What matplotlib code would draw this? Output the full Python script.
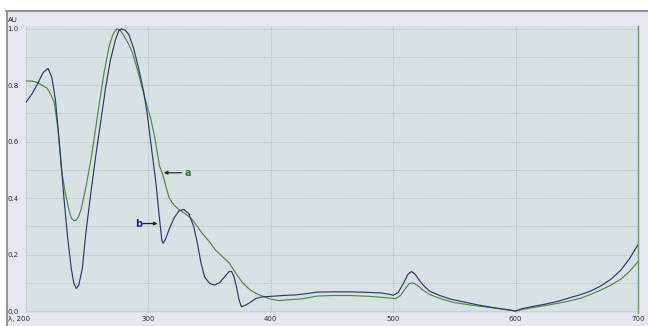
"""UV-Vis absorbance spectra of samples a and b (200-700 nm)."""
import numpy as np
import matplotlib
matplotlib.use('Agg')
import matplotlib.pyplot as plt
from matplotlib.patches import Rectangle
from matplotlib.lines import Line2D
from matplotlib.transforms import ScaledTranslation

# ── Spectrum b (blue) ────────────────────────────────────────────
wl_b = [200, 205, 210, 214, 218, 221, 224, 228, 231, 234, 237, 239, 241, 243,
        246, 249, 253, 257, 261, 265, 269, 273, 276, 278, 281, 284, 288, 292,
        296, 299, 303, 306, 309, 311, 312, 314, 317, 321, 325, 329, 333, 337,
        340, 343, 346, 350, 354, 358, 362, 366, 368, 370, 372, 374, 376, 379,
        383, 388, 393, 400, 410, 420, 430, 438, 450, 465, 480, 490, 496, 500,
        504, 508, 512, 515, 518, 522, 526, 530, 538, 547, 560, 571, 585, 595,
        600, 605, 615, 625, 635, 645, 653, 662, 670, 678, 686, 693, 700]
abs_b = [0.74, 0.77, 0.81, 0.845, 0.86, 0.83, 0.75, 0.56, 0.40, 0.26, 0.15,
         0.10, 0.08, 0.09, 0.15, 0.28, 0.42, 0.55, 0.67, 0.79, 0.89, 0.96,
         0.995, 1.0, 0.995, 0.98, 0.93, 0.86, 0.78, 0.70, 0.56, 0.46, 0.33,
         0.25, 0.24, 0.255, 0.29, 0.33, 0.355, 0.36, 0.345, 0.30, 0.24, 0.17,
         0.12, 0.098, 0.092, 0.10, 0.12, 0.14, 0.14, 0.12, 0.085, 0.04, 0.015,
         0.02, 0.03, 0.045, 0.05, 0.052, 0.055, 0.057, 0.062, 0.067, 0.068,
         0.068, 0.066, 0.064, 0.06, 0.056, 0.065, 0.095, 0.13, 0.14, 0.13,
         0.105, 0.085, 0.07, 0.055, 0.042, 0.03, 0.02, 0.01, 0.004, 0.0,
         0.008, 0.017, 0.025, 0.035, 0.048, 0.058, 0.072, 0.09, 0.113, 0.145,
         0.185, 0.235]

# ── Spectrum a (green) ───────────────────────────────────────────
wl_a = [200, 205, 209, 213, 217, 220, 223, 226, 229, 232, 235, 237, 239, 241,
        243, 245, 249, 253, 257, 260, 264, 268, 271, 274, 277, 280, 284, 287,
        291, 295, 299, 302, 305, 309, 312, 315, 317, 321, 325, 330, 335, 340,
        344, 350, 355, 360, 366, 372, 377, 383, 389, 395, 400, 407, 415, 425,
        438, 450, 465, 480, 495, 502, 506, 510, 513, 516, 520, 524, 530, 540,
        550, 565, 580, 595, 600, 606, 615, 625, 640, 653, 662, 670, 678, 686,
        693, 700]
abs_a = [0.815, 0.815, 0.81, 0.80, 0.79, 0.77, 0.74, 0.65, 0.50, 0.42, 0.36,
         0.33, 0.32, 0.322, 0.335, 0.36, 0.44, 0.535, 0.65, 0.74, 0.85, 0.94,
         0.98, 1.0, 0.995, 0.975, 0.945, 0.915, 0.855, 0.79, 0.725, 0.68,
         0.62, 0.515, 0.48, 0.43, 0.40, 0.375, 0.36, 0.345, 0.328, 0.30,
         0.275, 0.245, 0.215, 0.195, 0.17, 0.13, 0.10, 0.075, 0.06, 0.05,
         0.042, 0.037, 0.04, 0.043, 0.053, 0.055, 0.055, 0.052, 0.047, 0.044,
         0.055, 0.08, 0.097, 0.10, 0.09, 0.075, 0.058, 0.042, 0.03, 0.02,
         0.012, 0.003, 0.0, 0.006, 0.013, 0.02, 0.032, 0.045, 0.06, 0.075,
         0.092, 0.113, 0.14, 0.175]

x_ticks = [200, 300, 400, 500, 600, 700]
x_labels = ['\u03bb, 200', '300', '400', '500', '600', '700']
y_ticks = [0.0, 0.2, 0.4, 0.6, 0.8, 1.0]
y_labels = ['0.0', '0.2', '0.4', '0.6', '0.8', '1.0']

BLUE = '#2c3872'
GREEN = '#4f8a3c'

fig = plt.figure(figsize=(6.48, 3.26), dpi=100, facecolor='white')

# outer lavender panel with grey top/left border
fig.patches.append(Rectangle((6 / 648, 0), 1, 1 - 10 / 326,
                             transform=fig.transFigure, facecolor='#e7e7f2',
                             edgecolor='none', zorder=-5))
fig.lines.append(Line2D([6 / 648, 1], [1 - 10.5 / 326] * 2,
                        transform=fig.transFigure, color='#8a8a8a', lw=1.3,
                        zorder=-4))
fig.lines.append(Line2D([6.5 / 648] * 2, [0, 1 - 10.5 / 326],
                        transform=fig.transFigure, color='#8a8a8a', lw=1.3,
                        zorder=-4))

ax = fig.add_axes([26 / 648, 13 / 326, (638 - 26) / 648, (300 - 13) / 326])
ax.set_facecolor('#d8e2e5')

ax.plot(wl_a, abs_a, color=GREEN, lw=0.85, zorder=3)
ax.plot(wl_b, abs_b, color=BLUE, lw=0.85, zorder=4)

ax.set_xlim(200, 700)
ax.set_ylim(-0.007, 1.01)

# grid: 100 nm vertical, 0.1 AU horizontal
ax.set_xticks(x_ticks)
ax.set_yticks(np.arange(0, 1.01, 0.1), minor=True)
ax.set_yticks(y_ticks)
ax.grid(which='both', color='#a9b4b8', linestyle=(0, (1.5, 1.5)), lw=0.6,
        alpha=0.8, zorder=1)

ax.set_xticklabels(x_labels, fontsize=5, color='#333333')
ax.set_yticklabels(y_labels, fontsize=5, color='#333333')
ax.tick_params(which='both', length=0, pad=2)
for lab in ax.get_yticklabels():
    lab.set_ha('left')
    lab.set_transform(lab.get_transform()
                      + ScaledTranslation(-16 / 100, 0, fig.dpi_scale_trans))
first = ax.get_xticklabels()[0]
first.set_transform(first.get_transform()
                    + ScaledTranslation(-7 / 100, 0, fig.dpi_scale_trans))

for side in ['left', 'top', 'bottom']:
    ax.spines[side].set_visible(False)
ax.spines['right'].set_color('#6a9a6a')
ax.spines['right'].set_linewidth(1.0)

fig.text(8 / 648, 1 - 20 / 326, 'AU', fontsize=5, color='#333333',
         va='center', ha='left')

# curve labels: arrows then letters
arrow_kw = dict(arrowstyle='-|>', lw=0.9, mutation_scale=5,
                shrinkA=0, shrinkB=0)
ax.annotate('', xy=(312.5, 0.49), xytext=(327, 0.49),
            arrowprops=dict(color='#1e3a1e', **arrow_kw))
ax.text(329.5, 0.49, 'a', color='#2d7a2a', fontsize=7, fontweight='bold',
        va='center', ha='left')
ax.annotate('', xy=(307.5, 0.31), xytext=(295.5, 0.31),
            arrowprops=dict(color='#1a1f4a', **arrow_kw))
ax.text(295, 0.31, 'b', color='#232a7a', fontsize=7, fontweight='bold',
        va='center', ha='right')

fig.savefig('out.png', dpi=100)
plt.close(fig)
